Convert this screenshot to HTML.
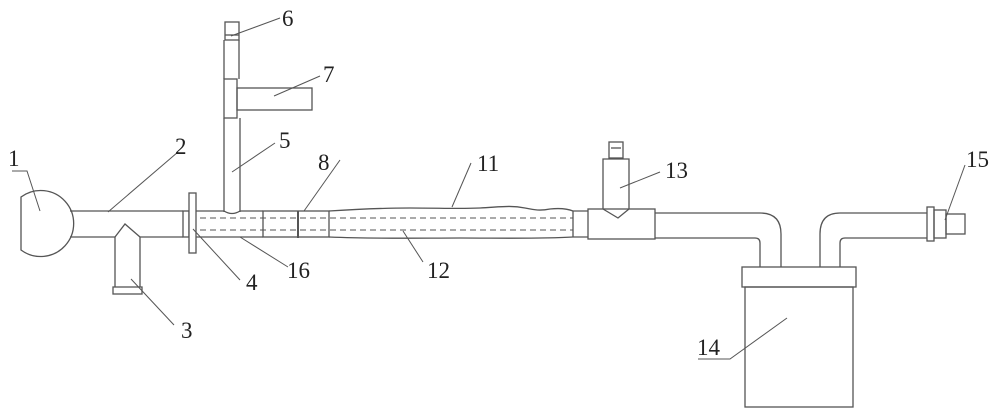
<!DOCTYPE html>
<html><head><style>body{margin:0;background:#fff}svg{display:block}text{font-family:"Liberation Serif",serif;font-size:23px;fill:#222}</style></head><body>
<svg width="1000" height="415" viewBox="0 0 1000 415" fill="none" stroke="#555" stroke-width="1.3">
<path d="M21,197 A33,33 0 1 1 21,250 Z" fill="#fff"/>
<path d="M70,211 H183 M70,237 H115 M140,237 H183"/>
<path d="M115,237 L125,224 L140,237"/>
<path d="M115,237 V287 M140,237 V287"/>
<rect x="113" y="287" width="29" height="7"/>
<rect x="183" y="211" width="6" height="26"/>
<rect x="189" y="193" width="7" height="60" fill="#fff"/>
<path d="M196,211 H224 M240,211 H263 M196,237 H263"/>
<path d="M224,211 Q232,216 240,211"/>
<path d="M224,212 V118 M240,212 V118 M224,79 V40 M239,79 V40"/>
<rect x="225" y="22" width="14" height="18"/><path d="M225,35 H239"/>
<rect x="224" y="79" width="13" height="39"/>
<rect x="237" y="88" width="75" height="22"/>
<rect x="263" y="211" width="66" height="26"/>
<path d="M298,211 V238" stroke-width="2"/>
<path d="M329,211 C360,209 380,208 410,208 C440,208 460,209 480,208 C500,207 510,205 525,208 C535,210 540,211 550,209 C560,208 568,209 573,211 M329,237 C380,239 420,238 460,238 C500,238 540,239 573,237"/>
<path d="M573,211 V237 M573,211 H588 M573,237 H588"/>
<path d="M200,218 H573 M200,230 H573" stroke-dasharray="6,4" stroke-width="1"/>
<rect x="588" y="209" width="67" height="30"/>
<path d="M603,209 V159 H629 V209 M603,209 L618,218 L629,209"/>
<rect x="609" y="142" width="14" height="16"/><path d="M611,148 H621"/>
<path d="M655,213 H760 Q781,213 781,234 V267 M655,238 H755 Q760,238 760,243 V267"/>
<path d="M820,267 V234 Q820,213 840,213 H927 M840,267 V243 Q840,238 845,238 H927"/>
<rect x="927" y="207" width="7" height="34"/>
<rect x="934" y="210" width="12" height="28"/>
<rect x="946" y="214" width="19" height="20"/>
<rect x="742" y="267" width="114" height="20"/>
<rect x="745" y="287" width="108" height="120"/>
<g stroke-width="1">
<path d="M12,171 H27 L40,211"/>
<path d="M108,212 L178,152"/>
<path d="M131,279 L174,325"/>
<path d="M193,229 L240,280"/>
<path d="M240,237 L288,267"/>
<path d="M232,172 L275,143"/>
<path d="M231,36 L280,18"/>
<path d="M274,96 L320,76"/>
<path d="M304,211 L340,160"/>
<path d="M452,207 L471,163"/>
<path d="M403,231 L423,262"/>
<path d="M620,188 L660,172"/>
<path d="M945,220 L965,165"/>
<path d="M698,359 H730 L787,318"/>
</g>
<g stroke="none">
<text x="8" y="166">1</text><text x="175" y="154">2</text><text x="181" y="338">3</text>
<text x="246" y="290">4</text><text x="279" y="148">5</text><text x="282" y="26">6</text>
<text x="323" y="82">7</text><text x="318" y="170">8</text><text x="477" y="171">11</text>
<text x="427" y="278">12</text><text x="665" y="178">13</text><text x="697" y="355">14</text>
<text x="966" y="167">15</text><text x="287" y="278">16</text>
</g>
</svg>
</body></html>
